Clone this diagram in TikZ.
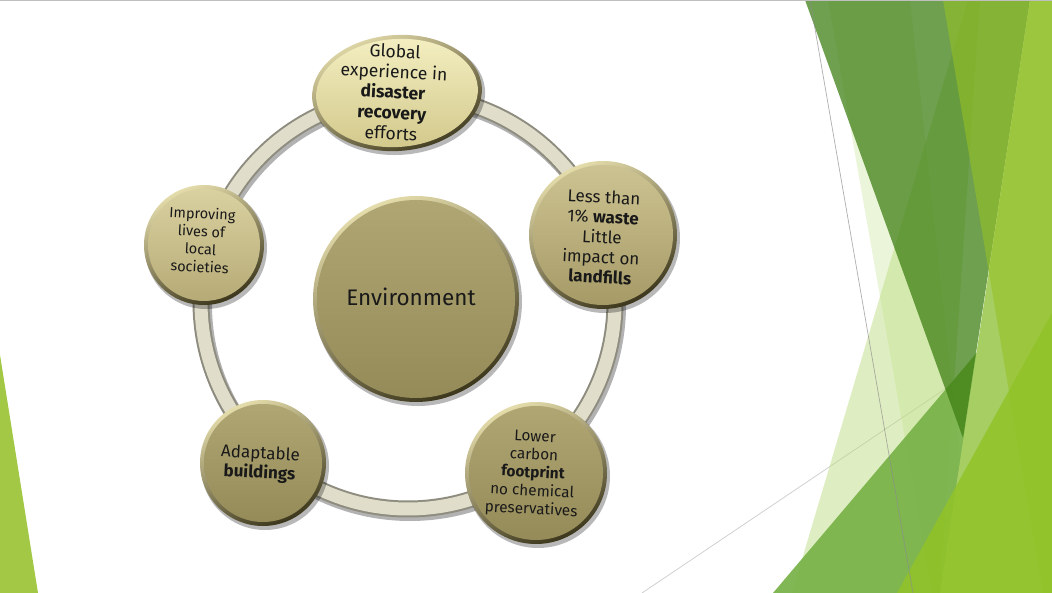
\documentclass[tikz,border=0pt]{standalone}
\usepackage{fontspec}
\setmainfont{Fira Sans}
\definecolor{leftgreen}{HTML}{A2C845}
\definecolor{paleA}{HTML}{C8E496}
\definecolor{paleB}{HTML}{BADB78}
\definecolor{midgreen}{HTML}{78B248}
\definecolor{darkgreen}{HTML}{3E7F13}
\definecolor{lightgreen}{HTML}{A6CE63}
\definecolor{brightgreen}{HTML}{94C126}
\definecolor{yellowgreen}{HTML}{91C327}
\definecolor{ringband}{HTML}{E0DDCB}
\definecolor{ringedge}{HTML}{8E8C7E}
\definecolor{rimlight}{HTML}{E4DCAA}
\definecolor{rimdark}{HTML}{3C361C}
\definecolor{creamtop}{HTML}{F4EFC2}
\definecolor{creambot}{HTML}{D2C88B}
\definecolor{sandtop}{HTML}{CDC392}
\definecolor{sandbot}{HTML}{A69B67}
\definecolor{palesandtop}{HTML}{DAD1A1}
\definecolor{palesandbot}{HTML}{B6AB76}
\definecolor{olivetop}{HTML}{B0A674}
\definecolor{olivebot}{HTML}{958B59}
\tikzset{
  facet/.style={draw=none},
  thinrule/.style={draw=#1, line width=0.7pt},
  ringshadow/.style={draw=black, draw opacity=0.3, line width=18pt},
  ringouter/.style={draw=ringedge, line width=17pt},
  ringinner/.style={draw=ringband, line width=13pt},
  bshadow/.style={fill=black, fill opacity=0.28},
  rim/.style={top color=rimlight, bottom color=rimdark, shading angle=25},
  lab/.style={align=center, inner sep=0pt, rotate=-3, text=black!90},
}
\begin{document}
\begin{tikzpicture}[x=1pt,y=1pt]
\useasboundingbox (0,0) rectangle (1052,-593);
\fill[white] (0,0) rectangle (1052,-593);
% ---------- background facets ----------
\fill[leftgreen] (0,-355) -- (38,-593) -- (0,-593) -- cycle;
\draw[thinrule=black!20] (642,-593) -- (1052,-317);
\fill[paleA, fill opacity=0.35] (828,0) -- (932,-593) -- (975,-593) -- (910,0) -- cycle;
\fill[paleB, fill opacity=0.45] (792,-593) -- (968,0) -- (980,0) -- (940,-593) -- cycle;
\fill[midgreen, fill opacity=0.93] (773,-593) -- (1052,-264) -- (1052,-593) -- cycle;
\fill[darkgreen, fill opacity=0.74] (805,0) -- (1030,0) -- (963,-438) -- cycle;
\fill[lightgreen] (1030,0) -- (940,-593) -- (1052,-593) -- (1052,0) -- cycle;
\fill[brightgreen, fill opacity=0.6] (943,0) -- (1043,-593) -- (1052,-593) -- (1052,0) -- cycle;
\fill[yellowgreen, fill opacity=0.85] (897,-593) -- (1052,-313) -- (1052,-593) -- cycle;
\draw[thinrule=black!45, draw opacity=0.7] (810,0) -- (913,-593);
\draw[black!25, line width=1.5pt] (0,-0.75) -- (1052,-0.75);
% ---------- ring ----------
\coordinate (ringc) at (408,-302);
\draw[ringshadow] ([shift={(2,-3)}]ringc) circle (207);
\draw[ringouter] (ringc) circle (207);
\draw[ringinner] (ringc) circle (207);
% ---------- bubbles ----------
\coordinate (cTop) at (397,-93);
\coordinate (cRight) at (603,-235);
\coordinate (cBR) at (536,-473);
\coordinate (cBL) at (263,-463);
\coordinate (cLeft) at (204,-245);
\coordinate (cEnv) at (416,-299);
% top ellipse
\fill[bshadow, rotate around={4:(cTop)}] ([shift={(2,-3)}]cTop) ellipse (86 and 59);
\shade[rim, rotate around={4:(cTop)}] (cTop) ellipse (85 and 58);
\shade[top color=creamtop, bottom color=creambot, rotate around={4:(cTop)}] (cTop) ellipse (81 and 54);
% right
\fill[bshadow] ([shift={(2,-3)}]cRight) circle (75);
\shade[rim] (cRight) circle (74);
\shade[top color=sandtop, bottom color=sandbot] (cRight) circle (70);
% bottom right
\fill[bshadow] ([shift={(2,-3)}]cBR) circle (72);
\shade[rim] (cBR) circle (71);
\shade[top color=olivetop, bottom color=olivebot] (cBR) circle (67);
% bottom left
\fill[bshadow] ([shift={(2,-3)}]cBL) circle (64);
\shade[rim] (cBL) circle (63);
\shade[top color=olivetop, bottom color=olivebot] (cBL) circle (59);
% left
\fill[bshadow] ([shift={(2,-3)}]cLeft) circle (61);
\shade[rim] (cLeft) circle (60);
\shade[top color=palesandtop, bottom color=palesandbot] (cLeft) circle (56);
% environment
\fill[bshadow] ([shift={(2,-3)}]cEnv) circle (104);
\shade[rim] (cEnv) circle (103);
\shade[top color=olivetop, bottom color=olivebot] (cEnv) circle (99);
% ---------- texts ----------
\node[lab, font=\fontsize{17.5}{20.5}\selectfont] (tTop) at (393,-92)
  {Global\\experience in\\\textbf{disaster}\\\textbf{recovery}\\efforts};
\node[lab, font=\fontsize{17}{20}\selectfont] (tRight) at (602,-237)
  {Less than\\1\% \textbf{waste}\\Little\\impact on\\\textbf{landfills}};
\node[lab, rotate=3, font=\fontsize{22.5}{26}\selectfont] (tEnv) at (411,-297) {Environment};
\node[lab, font=\fontsize{14.5}{17.8}\selectfont] (tLeft) at (201,-240)
  {Improving\\lives of\\local\\societies};
\node[lab, font=\fontsize{17}{19.5}\selectfont] (tBL) at (260,-464)
  {Adaptable\\\textbf{buildings}};
\node[lab, font=\fontsize{15.3}{18.2}\selectfont] (tBR) at (533,-474)
  {Lower\\carbon\\\textbf{footprint}\\no chemical\\preservatives};
\end{tikzpicture}
\end{document}
